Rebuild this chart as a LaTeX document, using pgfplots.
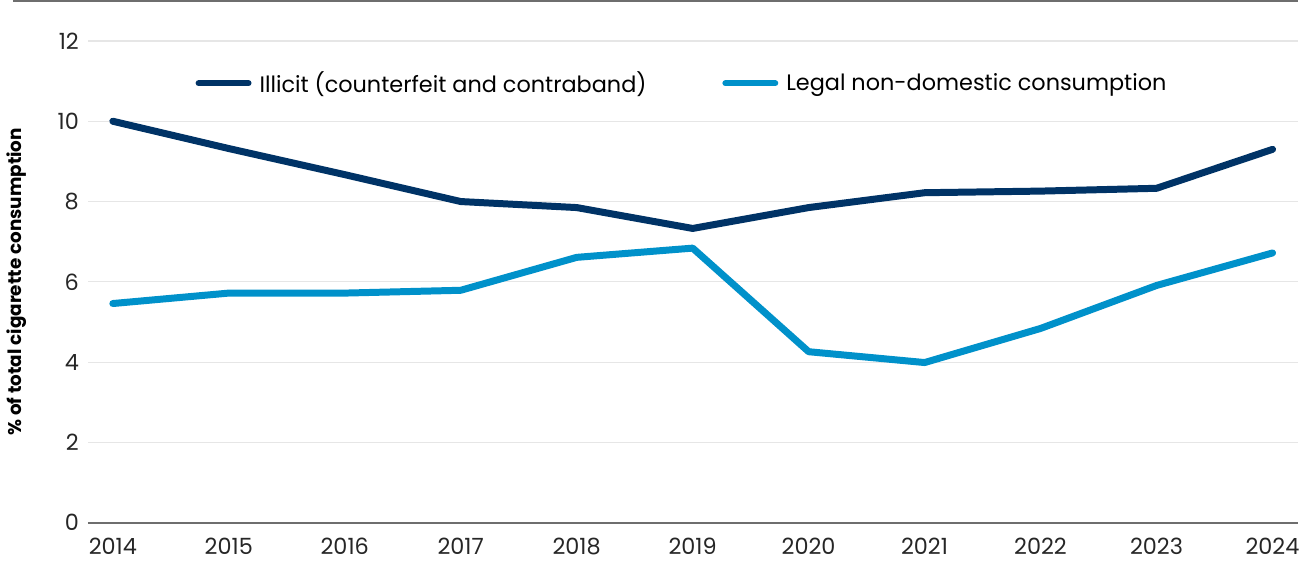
\documentclass[border=0pt]{standalone}
\usepackage{fontspec}
\setmainfont{Poppins}
\usepackage{pgfplots}
\pgfplotsset{compat=1.18}

\definecolor{illicit}{HTML}{003366}
\definecolor{legal}{HTML}{0091CA}
\definecolor{gridgray}{HTML}{E6E6E6}
\definecolor{axisgray}{HTML}{6E6E6E}

\begin{document}
\begin{tikzpicture}
\begin{axis}[
    width=606pt, height=261.5pt,
    scale only axis,
    xmin=2013.785, xmax=2024.215,
    ymin=0, ymax=13,
    axis x line=bottom, axis y line=left,
    x axis line style={axisgray, line width=0.8pt, -},
    y axis line style={draw=none},
    xtick={2014,...,2024},
    ytick={0,2,...,12},
    ymajorgrids,
    grid style={gridgray, line width=0.6pt},
    major tick length=0pt,
    xticklabel style={font=\fontsize{11.2}{12}\selectfont, color=black!85, yshift=-4pt},
    yticklabel style={font=\fontsize{11.2}{12}\selectfont, color=black!85, xshift=-1pt},
    xticklabel={\pgfmathprintnumber[1000 sep={}]{\tick}},
    /pgf/number format/assume math mode=true,
    ylabel={\bfseries\% of total cigarette consumption},
    ylabel style={font=\fontsize{9.2}{11}\selectfont, at={(rel axis cs:-0.045,0.4615)}, anchor=south},
    legend style={draw=none, fill=none, at={(0.492,0.842)}, anchor=center,
        legend columns=2, font=\fontsize{11.2}{12}\selectfont,
        /tikz/every even column/.append style={column sep=36pt}},
    legend image code/.code={\draw[#1, line width=3pt, line cap=round] (0pt,0pt) -- (25pt,0pt);},
    legend cell align=left,
    clip=false,
]
\addplot[illicit, line width=3.5pt, line join=round, line cap=round] coordinates {
    (2014,10.0) (2015,9.32) (2016,8.67) (2017,8.0) (2018,7.85) (2019,7.33)
    (2020,7.85) (2021,8.22) (2022,8.26) (2023,8.33) (2024,9.3)
};
\addlegendentry{\hspace{2pt}Illicit (counterfeit and contraband)}
\addplot[legal, line width=3.5pt, line join=round, line cap=round] coordinates {
    (2014,5.46) (2015,5.72) (2016,5.72) (2017,5.79) (2018,6.61) (2019,6.84)
    (2020,4.26) (2021,3.99) (2022,4.84) (2023,5.91) (2024,6.72)
};
\addlegendentry{\hspace{2pt}Legal non-domestic consumption}
\draw[axisgray, line width=0.8pt] (rel axis cs:-0.062,1) -- (rel axis cs:1,1);
\end{axis}
\end{tikzpicture}
\end{document}
